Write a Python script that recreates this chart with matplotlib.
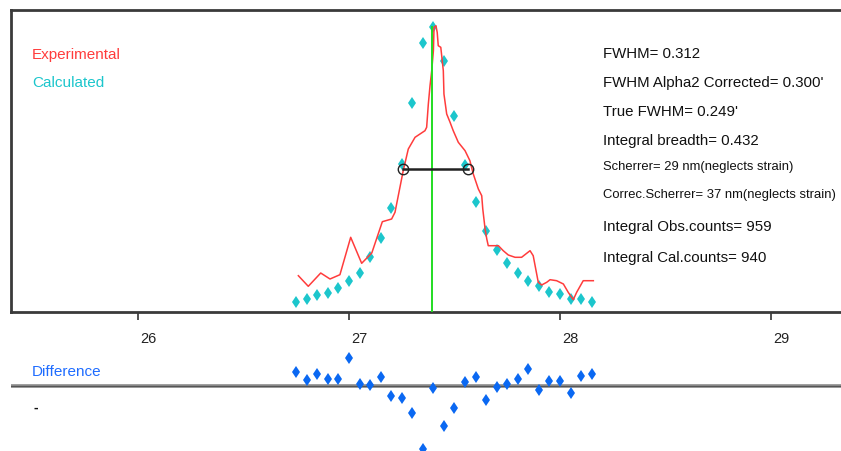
import matplotlib
matplotlib.use("Agg")
import matplotlib.pyplot as plt
import matplotlib.transforms as mtransforms
import numpy as np

plt.rcParams['font.family'] = ['Liberation Sans', 'DejaVu Sans']

# ---- data ----
two_theta_calc = [26.75, 26.80, 26.85, 26.90, 26.95, 27.00, 27.05, 27.10, 27.15, 27.20,
                  27.25, 27.30, 27.35, 27.40, 27.45, 27.50, 27.55, 27.60, 27.65, 27.70,
                  27.75, 27.80, 27.85, 27.90, 27.95, 28.00, 28.05, 28.10, 28.15]
calculated = [10.3, 13, 17, 19, 24.3, 31.3, 39, 55.3, 73.7, 104,
              148, 208.7, 268.7, 284.7, 250.7, 195.7, 147.3, 109.7, 80.7, 62.3,
              49, 38.7, 31.3, 26.3, 20.3, 18.3, 13, 13, 10.3]
difference = [14.3, 6, 12, 7, 7, 27.7, 2, 1.3, 9.3, -9.7,
              -12, -27.3, -63, -2.3, -40.3, -22.3, 4.3, 9.3, -14, -1.3,
              2, 7, 17, -3.7, 5.3, 4.7, -7, 9.7, 12]

two_theta_exp = [26.760, 26.807, 26.866, 26.910, 26.957, 27.008, 27.060, 27.108, 27.158, 27.202,
                 27.218, 27.257, 27.281, 27.313, 27.360, 27.368, 27.376, 27.384, 27.392, 27.400,
                 27.403, 27.412, 27.418, 27.423, 27.435, 27.447, 27.450, 27.463, 27.479, 27.494,
                 27.518, 27.550, 27.573, 27.589, 27.613, 27.629, 27.634, 27.645, 27.653, 27.660,
                 27.708, 27.731, 27.755, 27.787, 27.818, 27.858, 27.873, 27.897, 27.913, 27.937,
                 27.953, 27.984, 28.016, 28.039, 28.063, 28.079, 28.110, 28.158]
experimental = [36.3, 25.7, 39, 33, 37.3, 74.7, 48.7, 59, 90.3, 93,
                99.7, 141.3, 163, 174.7, 181.3, 184.7, 208, 226.3, 241.3, 261.3,
                284.7, 286.3, 279.7, 266.3, 264.7, 241.3, 218, 198, 189.7, 181.3,
                169.7, 161.3, 151.3, 138, 123, 116.3, 103, 83, 73, 66.3,
                66.3, 61.3, 57, 54.7, 54.7, 61.3, 56.3, 29.7, 27, 29.7,
                32.3, 31.3, 28, 19.7, 12.3, 19.7, 31.3, 31.3]

peak_position = 27.393
fwhm_bounds = [27.257, 27.565]
x_ticks = [26, 27, 28, 29]

info_lines = ["FWHM= 0.312", "FWHM Alpha2 Corrected= 0.300'", "True FWHM= 0.249'",
              "Integral breadth= 0.432", "Scherrer= 29 nm(neglects strain)",
              "Correc.Scherrer= 37 nm(neglects strain)", "Integral Obs.counts= 959",
              "Integral Cal.counts= 940"]
info_small = [False, False, False, False, True, True, False, False]

# ---- figure ----
W, H = 841, 452
fig = plt.figure(figsize=(W / 100, H / 100), dpi=100)

def fx(px):
    return px / W

def fy(py):
    return 1 - py / H

xlim = (27 + (11 - 349) / 211, 27 + (841 - 349) / 211)

ax = fig.add_axes([fx(11), fy(313), fx(841) - fx(11), fy(11) - fy(313)])
ax.set_xlim(*xlim)
ax.set_ylim(0, 302)

red = '#ff3c3c'
cyan = '#1cc6cc'
ax.plot(two_theta_exp, experimental, color=red, lw=1.1, zorder=3)
ax.plot(two_theta_calc, calculated, linestyle='none', marker='d', markersize=6.5,
        markeredgewidth=0, color=cyan, zorder=2)
peak_h = max(experimental)
ax.vlines(peak_position, 0, peak_h, color='#22dd22', lw=1.4, zorder=4)
ax.plot(fwhm_bounds, [peak_h / 2, peak_h / 2], color='#222222', lw=1.8, zorder=5)
ax.plot(fwhm_bounds, [peak_h / 2, peak_h / 2], linestyle='none', marker='o', markersize=7.5,
        markerfacecolor='none', markeredgecolor='#222222', markeredgewidth=1.0, zorder=6)

for s in ['left', 'top', 'bottom']:
    ax.spines[s].set_color('#3a3a3a')
    ax.spines[s].set_linewidth(2.0)
ax.spines['right'].set_visible(False)
ax.set_yticks([])
ax.set_xticks(x_ticks)
ax.set_xticklabels([str(t) for t in x_ticks], fontsize=10.5)
ax.tick_params(axis='x', direction='out', length=6, width=1.2, color='#333333',
               pad=8, labelcolor='#222222')
offset = mtransforms.ScaledTranslation(10 / 100, 0, fig.dpi_scale_trans)
for lbl in ax.get_xticklabels():
    lbl.set_transform(lbl.get_transform() + offset)

fig.text(fx(32), fy(55), "Experimental", color=red, fontsize=11, va='center', ha='left')
fig.text(fx(32), fy(83), "Calculated", color=cyan, fontsize=11, va='center', ha='left')

ys = [54, 83, 112, 141, 167, 195, 227, 258]
for txt, y, small in zip(info_lines, ys, info_small):
    if small:
        fig.text(fx(603), fy(y), txt, fontsize=9.4, va='center', ha='left', color='#111111')
    else:
        fig.text(fx(603), fy(y), txt, fontsize=10.8, va='center', ha='left', color='#111111')

# ---- difference panel ----
ax2 = fig.add_axes([fx(11), 0, fx(841) - fx(11), fy(340)])
ax2.set_xlim(*xlim)
ax2.set_ylim(387 - 452, 387 - 340)
ax2.axhline(0, color='#8a8a8a', lw=2.6, zorder=1)
ax2.axhline(0, color='#555555', lw=0.8, zorder=1)
ax2.plot(two_theta_calc, difference, linestyle='none', marker='d', markersize=6.5,
         markeredgewidth=0, color='#0a68f2', zorder=3)
ax2.axis('off')
fig.text(fx(32), fy(372), "Difference", color='#1e6cff', fontsize=11, va='center', ha='left')
fig.text(fx(34), fy(408), "-", color='#111111', fontsize=10, va='center', ha='left',
         fontweight='bold')

fig.savefig("out.png", dpi=100)
